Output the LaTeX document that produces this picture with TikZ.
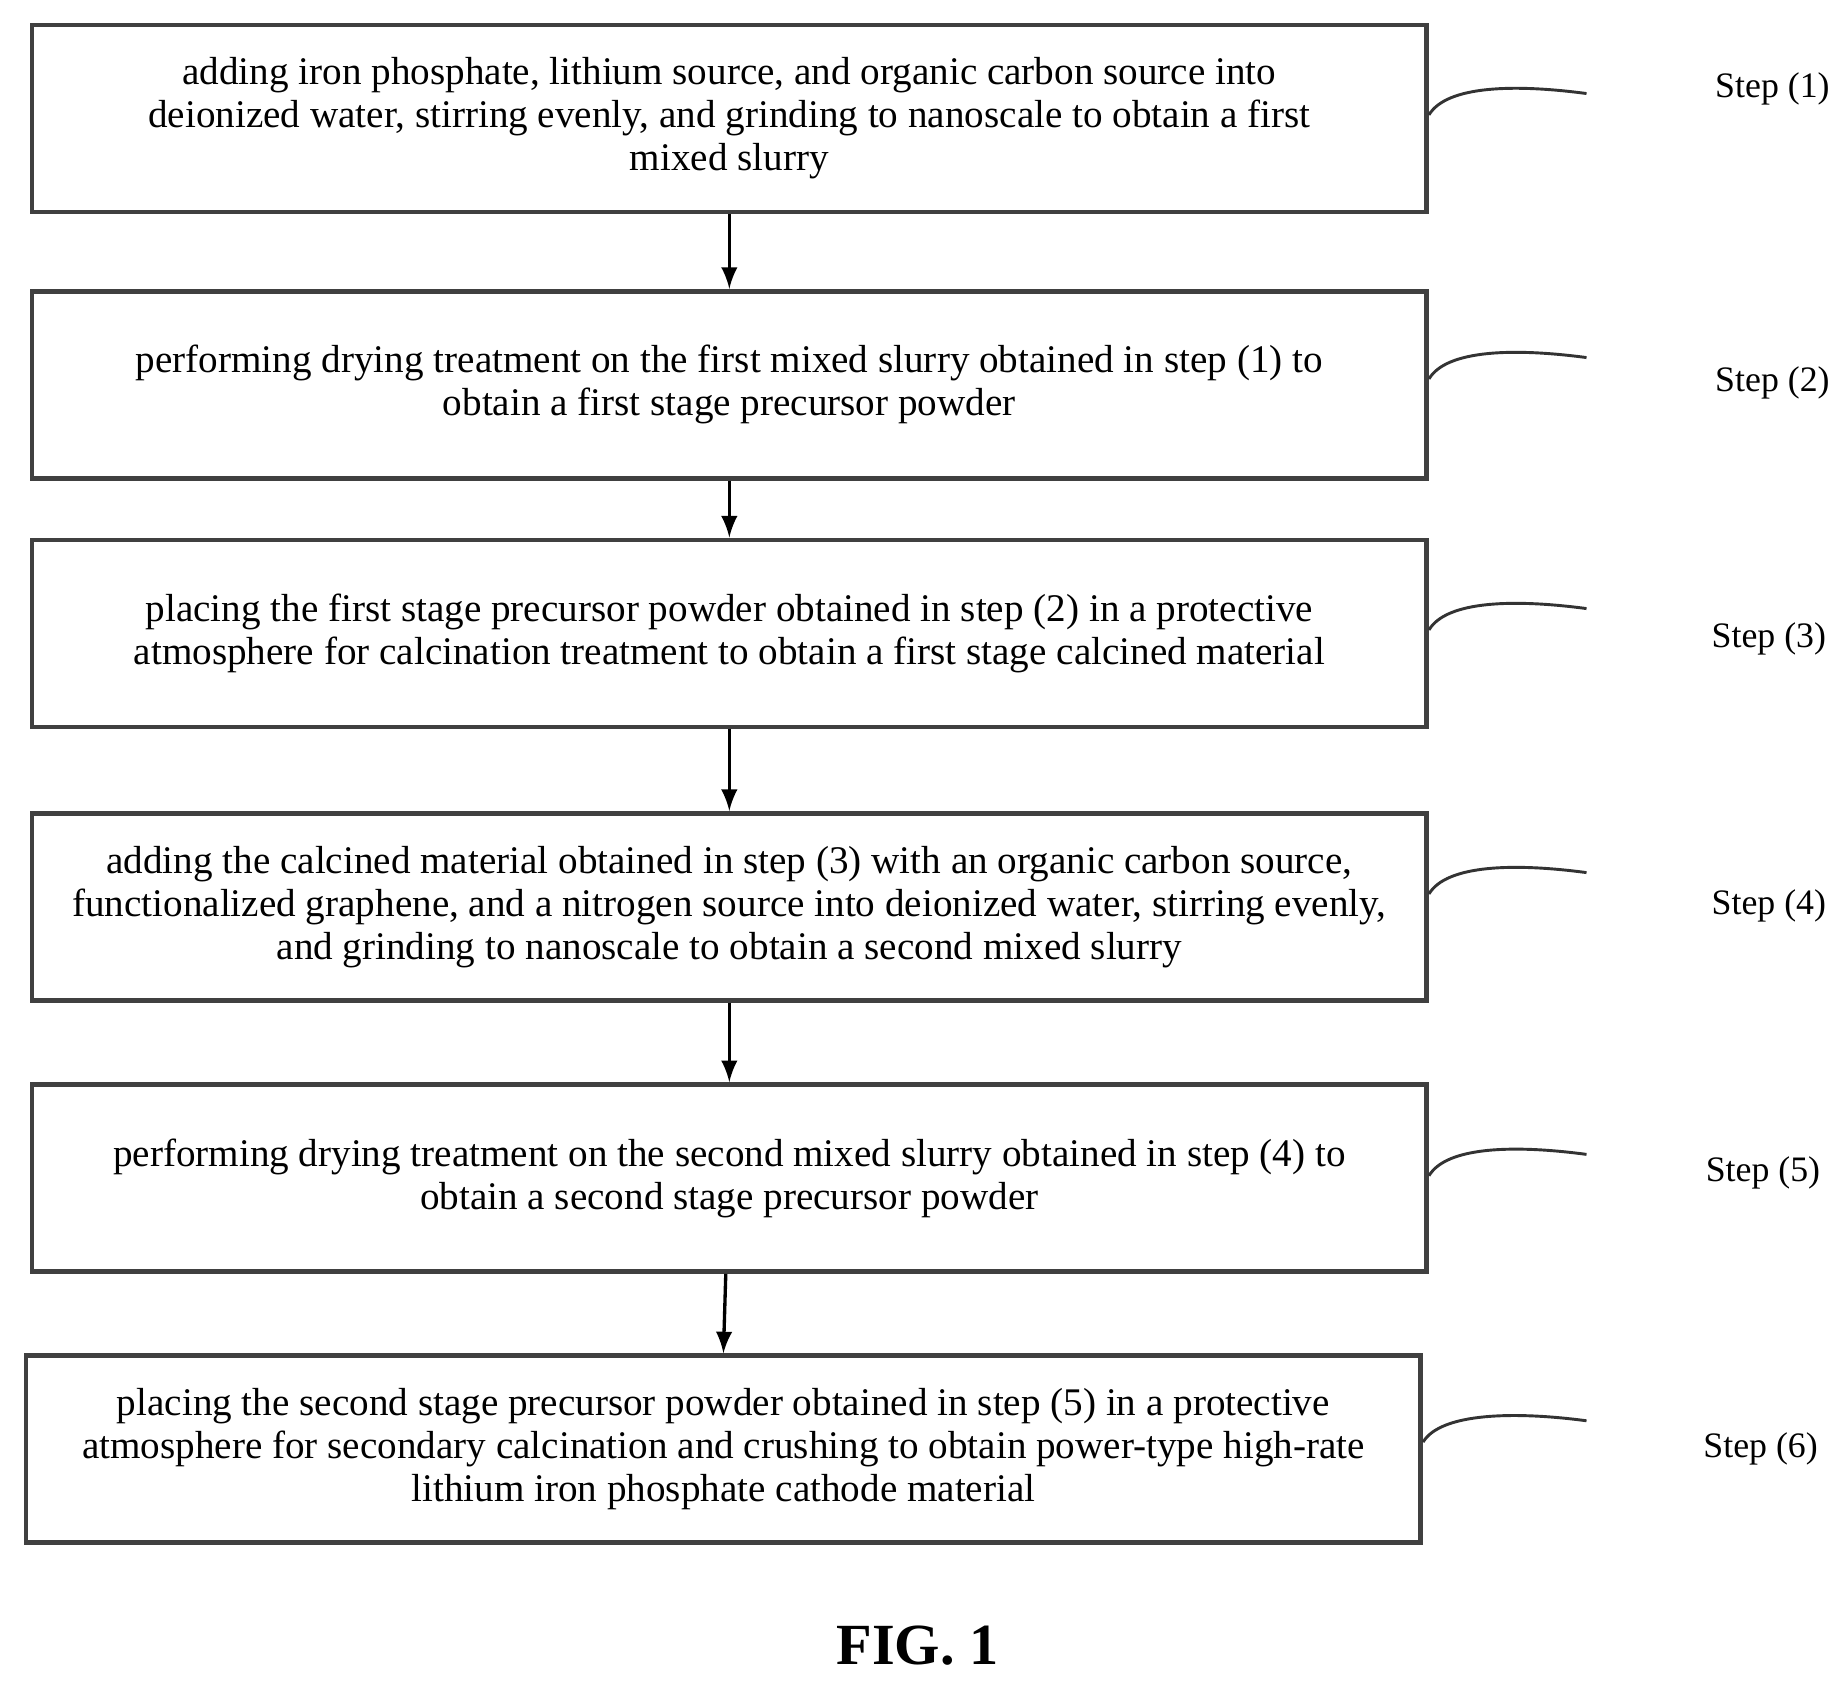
\documentclass[tikz,border=0pt]{standalone}
\usepackage{fontspec}
\setmainfont{Liberation Serif}
\begin{document}
\begin{tikzpicture}[x=0.01cm,y=-0.01cm,
 box/.style={draw=black!75,line width=1.1pt,minimum width=1178*0.01cm,minimum height=158*0.01cm,inner sep=0pt,align=center,font=\fontsize{9.4}{10.3}\selectfont},
 lab/.style={font=\fontsize{8.6}{10}\selectfont},
 arr/.style={-latex,line width=0.8pt},
 lead/.style={line width=0.7pt,black!80}]
\useasboundingbox (0,0) rectangle (1560,1420);
\node[box] (b1) at (616,100) {adding iron phosphate, lithium source, and organic carbon source into\\deionized water, stirring evenly, and grinding to nanoscale to obtain a first\\mixed slurry};
\node[box] (b2) at (616,325) {performing drying treatment on the first mixed slurry obtained in step (1) to\\obtain a first stage precursor powder};
\node[box] (b3) at (616,535) {placing the first stage precursor powder obtained in step (2) in a protective\\atmosphere for calcination treatment to obtain a first stage calcined material};
\node[box] (b4) at (616,766) {adding the calcined material obtained in step (3) with an organic carbon source,\\functionalized graphene, and a nitrogen source into deionized water, stirring evenly,\\and grinding to nanoscale to obtain a second mixed slurry};
\node[box] (b5) at (616,995) {performing drying treatment on the second mixed slurry obtained in step (4) to\\obtain a second stage precursor powder};
\node[box] (b6) at (611,1224) {placing the second stage precursor powder obtained in step (5) in a protective\\atmosphere for secondary calcination and crushing to obtain power-type high-rate\\lithium iron phosphate cathode material};
\draw[arr] (b1.south) -- (b2.north);
\draw[arr] (b2.south) -- (b3.north);
\draw[arr] (b3.south) -- (b4.north);
\draw[arr] (b4.south) -- (b5.north);
\draw[arr] ([xshift=-3*0.01cm]b5.south) -- (b6.north);
\node[lab] (s1) at (1497,75) {Step (1)};
\node[lab] (s2) at (1497,323) {Step (2)};
\node[lab] (s3) at (1494,540) {Step (3)};
\node[lab] (s4) at (1494,765) {Step (4)};
\node[lab] (s5) at (1489,991) {Step (5)};
\node[lab] (s6) at (1487,1224) {Step (6)};
\foreach \b/\y in {b1/97,b2/320,b3/532,b4/755,b5/993,b6/1218}{
 \coordinate (e\b) at (1340,\y-18);
 \draw[lead] (\b.east |- 0,\y) .. controls +(15,-25) and +(-60,-8) .. (e\b);
}
\node[font=\bfseries\fontsize{14}{16}\selectfont] (fig) at (775,1390) {FIG. 1};
\end{tikzpicture}
\end{document}
